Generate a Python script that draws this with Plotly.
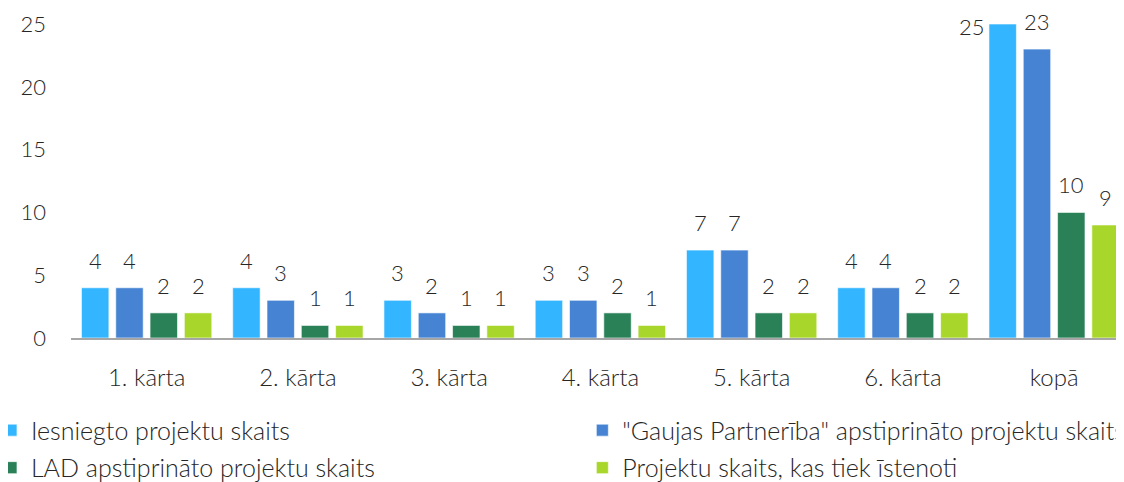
import plotly.graph_objects as go

categories = ["1. kārta", "2. kārta", "3. kārta", "4. kārta", "5. kārta", "6. kārta", "kopā"]
series_names = [
    "Iesniegto projektu skaits",
    "\"Gaujas Partnerība\" apstiprināto projektu skaits",
    "LAD apstiprināto projektu skaits",
    "Projektu skaits, kas tiek īstenoti",
]
submitted = [4, 4, 3, 3, 7, 4, 25]
approved_gp = [4, 3, 2, 3, 7, 4, 23]
approved_lad = [2, 1, 1, 2, 2, 2, 10]
implemented = [2, 1, 1, 1, 2, 2, 9]
series_values = [submitted, approved_gp, approved_lad, implemented]
colors = ["#33B5FF", "#4684D3", "#2A8157", "#A9D62B"]
legend_columns = ["legend", "legend2", "legend", "legend2"]
y_ticks = [0, 5, 10, 15, 20, 25]

FONT = "Lato"
TXT = "#262626"
BARGAP = 0.093
n = len(series_values)

fig = go.Figure()
for i, (name, vals, col) in enumerate(zip(series_names, series_values, colors)):
    fig.add_trace(go.Bar(
        x=categories, y=vals, name=name, legend=legend_columns[i],
        legendgroup=f"g{i}",
        marker=dict(color=col, line=dict(color="rgba(255,255,255,0.6)", width=1)),
    ))

annotations = []
slot = (1 - BARGAP) / n
ymax = max(max(v) for v in series_values)
for i, vals in enumerate(series_values):
    for j, v in enumerate(vals):
        xpos = j + (i - (n - 1) / 2) * slot
        if v == ymax:
            annotations.append(dict(
                x=xpos, y=v, xref="x", yref="y", text=str(v), showarrow=False,
                xanchor="right", yanchor="middle", xshift=-16, yshift=-2,
                font=dict(family=FONT, size=22, color=TXT, weight=300),
            ))
        else:
            annotations.append(dict(
                x=xpos, y=v, xref="x", yref="y", text=str(v), showarrow=False,
                xanchor="center", yanchor="bottom", yshift=12,
                font=dict(family=FONT, size=22, color=TXT, weight=300),
            ))

legend_common = dict(
    orientation="v", yanchor="top", xanchor="left", tracegroupgap=2,
    font=dict(family=FONT, size=25, color=TXT, weight=300), itemwidth=30,
    bgcolor="rgba(0,0,0,0)",
)

fig.update_layout(
    width=1124, height=482,
    margin=dict(l=63, r=8, t=16, b=152, autoexpand=False),
    paper_bgcolor="white", plot_bgcolor="white",
    barmode="group", bargap=BARGAP, bargroupgap=0.2,
    font=dict(family=FONT, size=20, color=TXT, weight=300),
    showlegend=True,
    legend=dict(x=-0.076, y=-0.221, **legend_common),
    legend2=dict(x=0.4856, y=-0.221, **legend_common),
    annotations=annotations,
    xaxis=dict(
        range=[-0.5, 6.462], showgrid=False, showline=True, linecolor="#A6A6A6",
        linewidth=1.5, ticks="", ticklabelstandoff=17,
        tickfont=dict(family=FONT, size=24, color=TXT, weight=300), fixedrange=True,
    ),
    yaxis=dict(
        range=[0, 25], tickvals=y_ticks, showgrid=False, zeroline=False,
        showline=False, ticks="", ticklabelstandoff=24,
        tickfont=dict(family=FONT, size=22, color=TXT, weight=300),
    ),
)

fig.write_html("out.html")
